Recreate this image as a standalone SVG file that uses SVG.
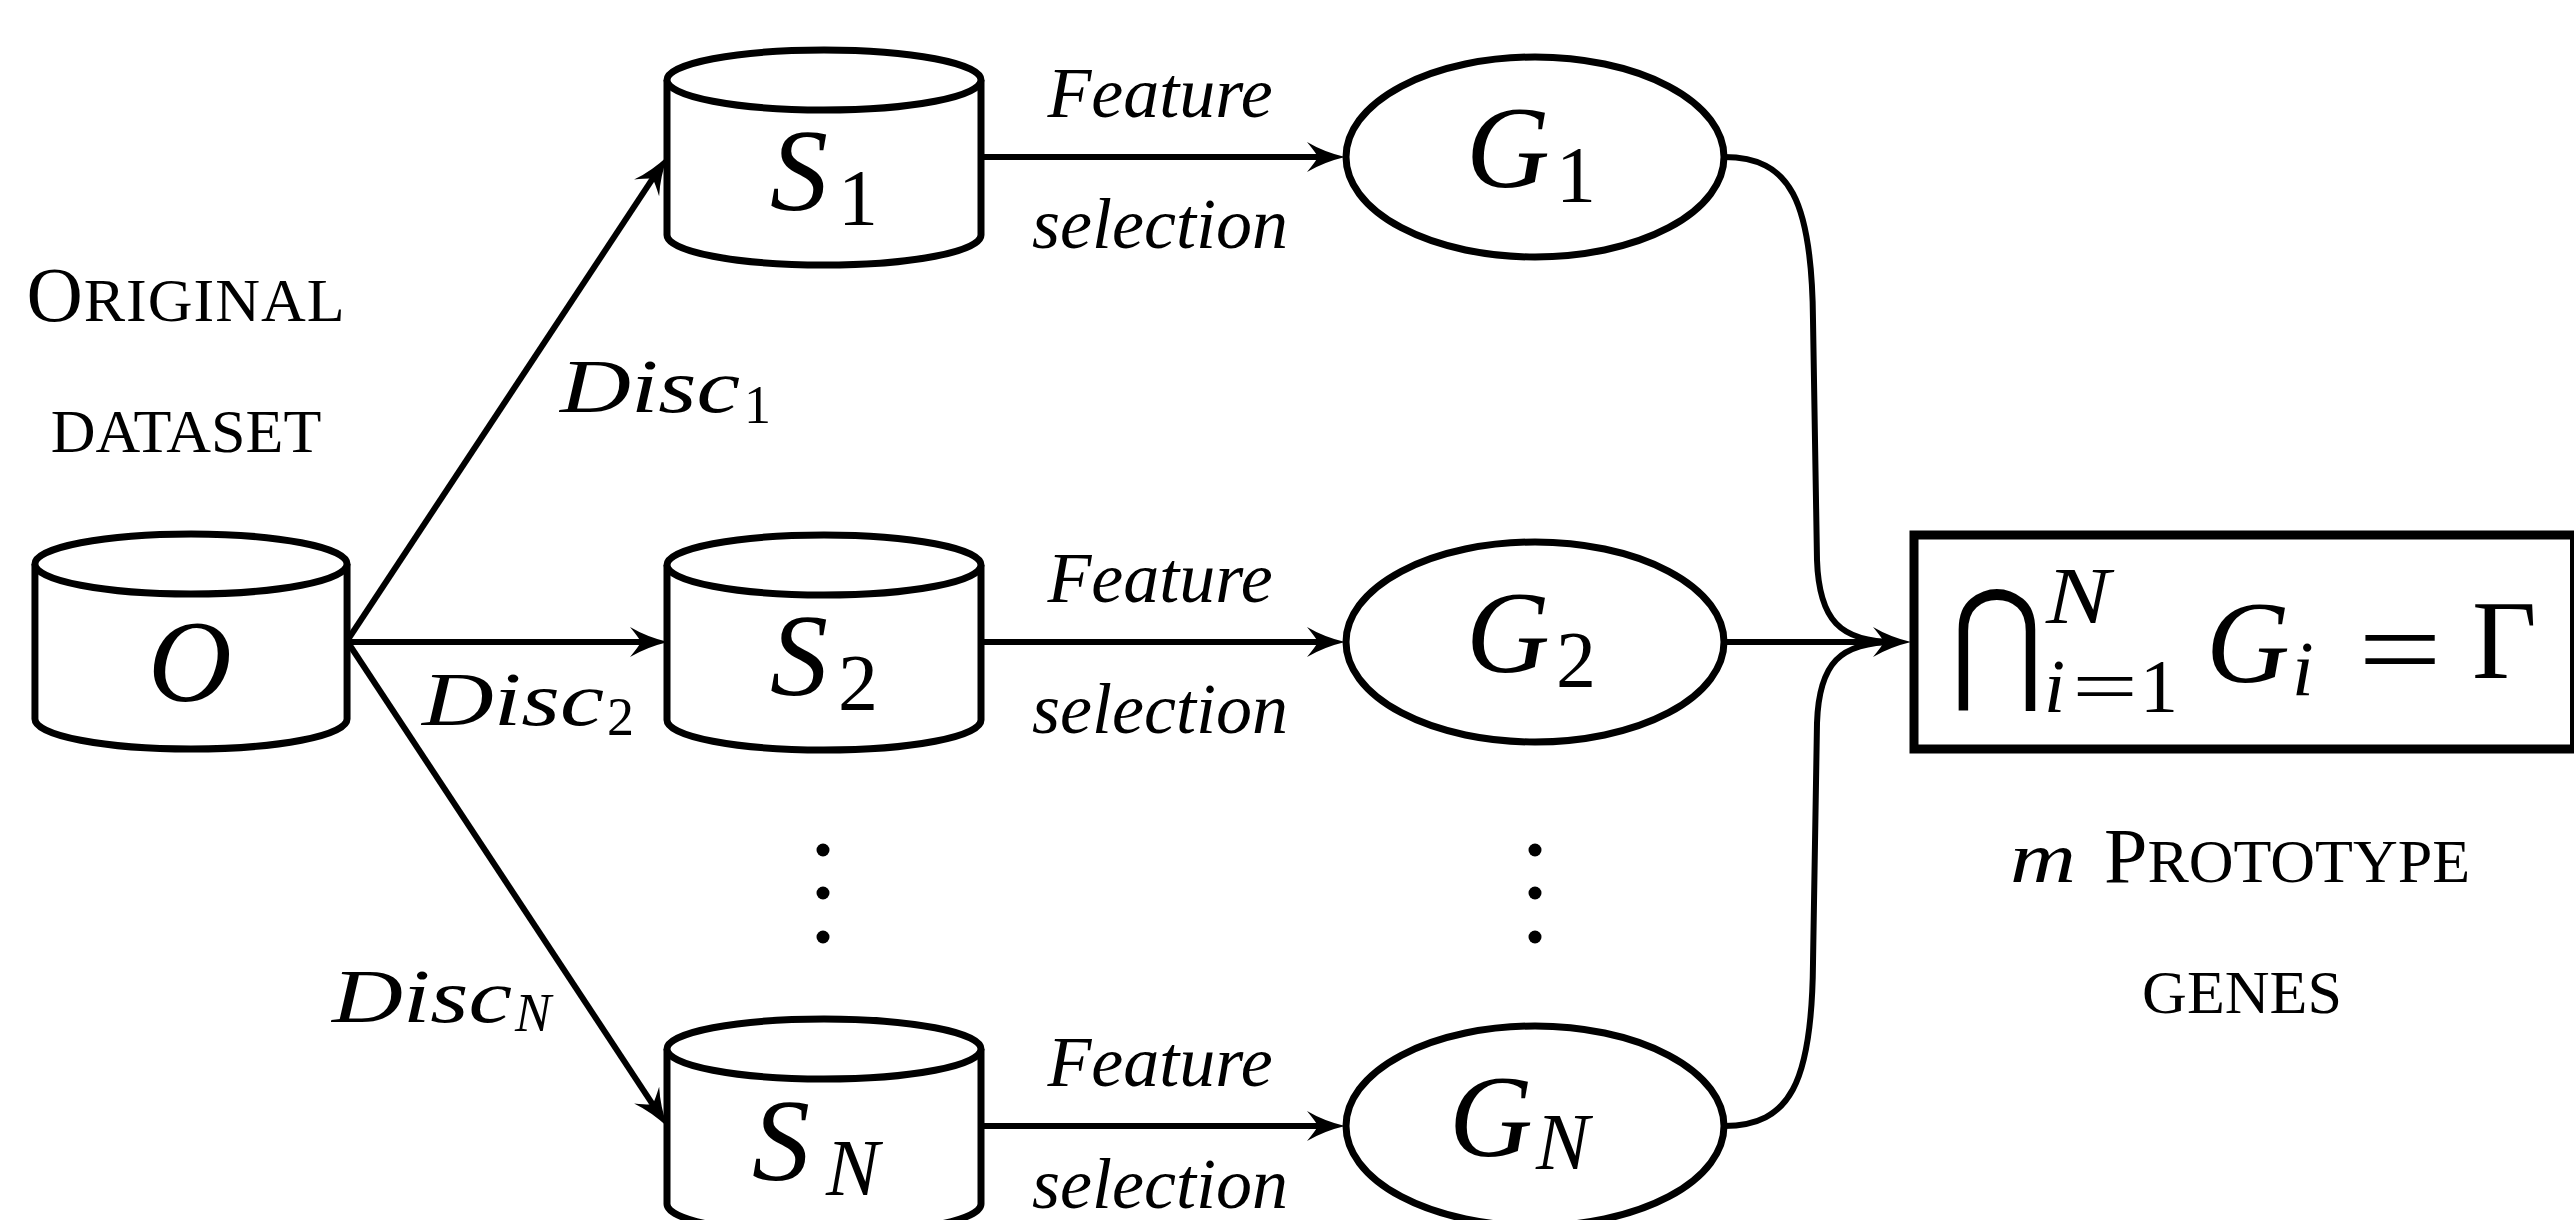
<svg xmlns="http://www.w3.org/2000/svg" xmlns:xlink="http://www.w3.org/1999/xlink" width="2574" height="1220" viewBox="0 0 2574 1220">
<style>
  .m { font-family: "Liberation Serif", serif; font-style: italic; fill: #000; }
  .r { font-family: "Liberation Serif", serif; fill: #000; }
  .node { fill: #fff; stroke: #000; stroke-width: 7; }
  .conn { fill: none; stroke: #000; stroke-width: 6; }
  .big { font-size: 116px; }
  .sub { font-size: 80px; }
  .lbl { font-size: 72px; }
  .disc { font-size: 76px; }
  .dsub { font-size: 54px; }
  .sc { font-size: 62px; }
  .scL { font-size: 78px; }
</style>
<defs>
  <marker id="ah" markerUnits="userSpaceOnUse" markerWidth="60" markerHeight="40" viewBox="-20 -20 60 40" refX="0" refY="0" orient="auto" overflow="visible">
    <path d="M21,0 Q0,-5 -17,-15 Q-8,-4 -6,0 Q-8,4 -17,15 Q0,5 21,0 Z" fill="#000"/>
  </marker>
  <g id="cyl">
    <path class="node" d="M-157,-77 L-157,78 A157,30 0 0 0 157,78 L157,-77"/>
    <ellipse class="node" cx="0" cy="-77" rx="157" ry="30"/>
  </g>
</defs>
<rect width="2574" height="1220" fill="#fff"/>

<!-- connectors -->
<g id="connectors">
  <line class="conn" x1="347" y1="641" x2="655.97" y2="173.68" marker-end="url(#ah)"/>
  <line class="conn" x1="347" y1="642" x2="647" y2="642" marker-end="url(#ah)"/>
  <line class="conn" x1="347" y1="641" x2="655.99" y2="1109.31" marker-end="url(#ah)"/>
  <line class="conn" x1="981" y1="157" x2="1324" y2="157" marker-end="url(#ah)"/>
  <line class="conn" x1="981" y1="642" x2="1324" y2="642" marker-end="url(#ah)"/>
  <line class="conn" x1="981" y1="1126" x2="1324" y2="1126" marker-end="url(#ah)"/>
  <path class="conn" d="M1724,157 C1790,157 1812,200 1813,320 L1817,560 C1819,620 1840,642 1895,642"/>
  <path class="conn" d="M1724,1126 C1790,1126 1812,1083 1813,963 L1817,723 C1819,663 1840,642 1895,642"/>
  <line class="conn" x1="1724" y1="642" x2="1890" y2="642" marker-end="url(#ah)"/>
</g>

<!-- nodes -->
<g id="node-O">
  <use xlink:href="#cyl" href="#cyl" transform="translate(191,641) scale(0.994,1)"/>
  <text class="m big" x="190" y="701" text-anchor="middle">O</text>
</g>
<g id="node-S1">
  <use xlink:href="#cyl" href="#cyl" x="824" y="157"/>
  <text class="m big" x="770" y="210">S</text>
  <text class="r sub" x="838" y="225">1</text>
</g>
<g id="node-S2">
  <use xlink:href="#cyl" href="#cyl" x="824" y="642"/>
  <text class="m big" x="770" y="695">S</text>
  <text class="r sub" x="838" y="710">2</text>
</g>
<g id="node-SN">
  <use xlink:href="#cyl" href="#cyl" x="824" y="1126"/>
  <text class="m big" x="752" y="1180">S</text>
  <text class="m sub" x="826" y="1195">N</text>
</g>
<g id="node-G1">
  <ellipse class="node" cx="1535" cy="157" rx="189" ry="100"/>
  <text class="m big" x="1466" y="187">G</text>
  <text class="r sub" x="1556" y="202">1</text>
</g>
<g id="node-G2">
  <ellipse class="node" cx="1535" cy="642" rx="189" ry="100"/>
  <text class="m big" x="1466" y="672">G</text>
  <text class="r sub" x="1556" y="687">2</text>
</g>
<g id="node-GN">
  <ellipse class="node" cx="1535" cy="1126" rx="189" ry="100"/>
  <text class="m big" x="1449" y="1156">G</text>
  <text class="m sub" x="1536" y="1169">N</text>
</g>
<g id="node-result">
  <rect x="1914" y="535" width="660.5" height="214" fill="#fff" stroke="#000" stroke-width="9"/>
  <text transform="translate(1951,684.5) scale(0.8,0.95)" x="0" y="0" style="font-family:'DejaVu Sans',sans-serif;font-size:140px;font-weight:300">⋂</text>
  <text class="m" x="2046" y="623" style="font-size:80px" textLength="64" lengthAdjust="spacingAndGlyphs">N</text>
  <text class="m" x="2044" y="712" style="font-size:76px">i</text>
  <text class="r" x="2072" y="712" style="font-size:76px" textLength="66" lengthAdjust="spacingAndGlyphs">=</text>
  <text class="r" x="2140" y="712" style="font-size:76px">1</text>
  <text class="m big" x="2206" y="682">G</text>
  <text class="m" x="2292" y="695" style="font-size:78px">i</text>
  <text class="r" x="2358" y="688" style="font-size:116px" textLength="84" lengthAdjust="spacingAndGlyphs">=</text>
  <text class="r" x="2472" y="678" style="font-size:112px">Γ</text>
</g>

<!-- dots -->
<g id="dots" fill="#000">
  <circle cx="823" cy="850" r="6.5"/>
  <circle cx="823" cy="893" r="6.5"/>
  <circle cx="823" cy="937" r="6.5"/>
  <circle cx="1535" cy="850" r="6.5"/>
  <circle cx="1535" cy="893" r="6.5"/>
  <circle cx="1535" cy="937" r="6.5"/>
</g>

<!-- edge labels -->
<g id="edge-labels">
  <text class="m disc" x="560" y="412" textLength="180" lengthAdjust="spacingAndGlyphs">Disc</text>
  <text class="r dsub" x="744" y="423">1</text>
  <text class="m disc" x="422" y="725" textLength="182" lengthAdjust="spacingAndGlyphs">Disc</text>
  <text class="r dsub" x="607" y="735">2</text>
  <text class="m disc" x="332" y="1022" textLength="180" lengthAdjust="spacingAndGlyphs">Disc</text>
  <text class="m dsub" x="515" y="1031">N</text>

  <text class="m lbl" x="1160" y="117" text-anchor="middle">Feature</text>
  <text class="m lbl" x="1160" y="248" text-anchor="middle">selection</text>
  <text class="m lbl" x="1160" y="602" text-anchor="middle">Feature</text>
  <text class="m lbl" x="1160" y="733" text-anchor="middle">selection</text>
  <text class="m lbl" x="1160" y="1086" text-anchor="middle">Feature</text>
  <text class="m lbl" x="1160" y="1208" text-anchor="middle">selection</text>
</g>

<!-- annotations -->
<g id="annotations">
  <text class="r sc" x="186" y="321" text-anchor="middle" letter-spacing="1"><tspan class="scL">O</tspan>RIGINAL</text>
  <text class="r sc" x="186" y="452" text-anchor="middle">DATASET</text>
  <text class="m" x="2010" y="882" style="font-size:72px" textLength="66" lengthAdjust="spacingAndGlyphs">m</text>
  <text class="r sc" x="2104" y="882"><tspan class="scL">P</tspan>ROTOTYPE</text>
  <text class="r sc" x="2242" y="1013" text-anchor="middle">GENES</text>
</g>
</svg>
